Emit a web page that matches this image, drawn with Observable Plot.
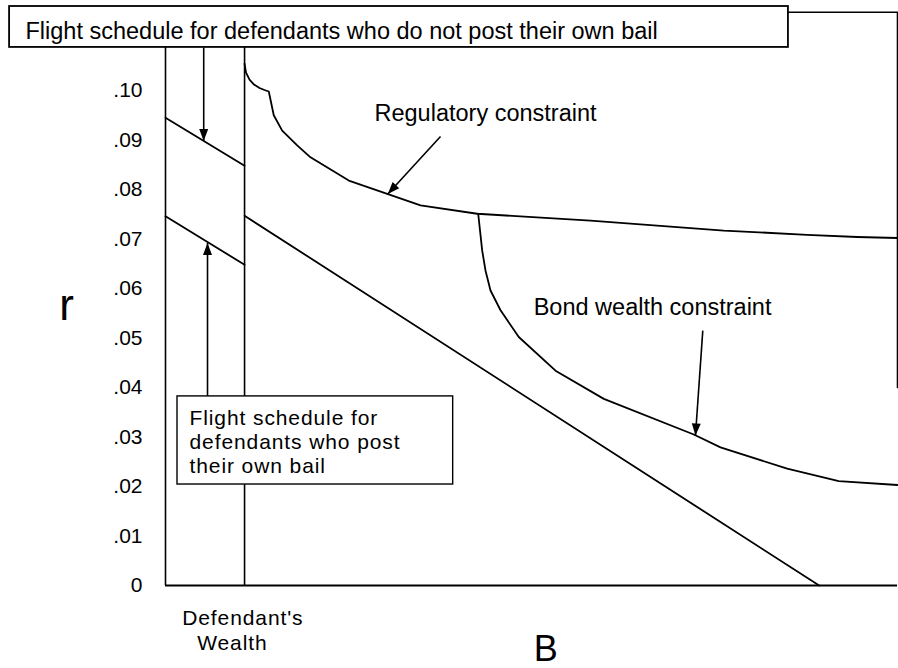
<!DOCTYPE html>
<html><head><meta charset="utf-8">
<script src="https://cdn.jsdelivr.net/npm/d3@7"></script>
<script src="https://cdn.jsdelivr.net/npm/@observablehq/plot@0.6"></script>
<style>
html,body{margin:0;padding:0;background:#fff;}
svg text{font-family:"Liberation Sans",Arial,Helvetica,sans-serif;}
</style></head><body><div id="chart"></div>
<script>
// ---- axis ticks ----
const rTicks = [0, 0.01, 0.02, 0.03, 0.04, 0.05, 0.06, 0.07, 0.08, 0.09, 0.10];
const rTickLabels = ["0", ".01", ".02", ".03", ".04", ".05", ".06", ".07", ".08", ".09", ".10"];

// ---- data (B on an arbitrary 0..100 scale, r as rate) ----
const wealthB = 10.8;                       // defendant's wealth
const flightNoPostB = [0, 10.8];            // flight schedule, do not post own bail
const flightNoPostR = [0.0945, 0.0848];
const flightPostB = [0, 10.8];              // flight schedule, post own bail
const flightPostR = [0.0746, 0.0648];
const flightBondB = [10.8, 89.3];           // schedule beyond defendant's wealth
const flightBondR = [0.0747, 0];
const regB = [10.8, 11.0, 11.48, 12.09, 12.84, 13.52, 14.11, 14.79, 15.94, 17.99, 19.81, 25.04, 30.29, 34.84, 42.58, 58.06, 76.27, 87.66, 94.49, 100];
const regR = [0.1054, 0.1036, 0.1022, 0.1012, 0.1005, 0.1001, 0.0998, 0.0950, 0.0919, 0.0889, 0.0865, 0.0818, 0.0791, 0.0768, 0.0751, 0.0737, 0.0717, 0.07085, 0.0704, 0.0702];
const bondB = [42.72, 43.26, 43.72, 44.4, 45.77, 48.26, 53.28, 59.88, 72.17, 75.82, 84.93, 91.98, 100];
const bondR = [0.0751, 0.0677, 0.0636, 0.0596, 0.0556, 0.0502, 0.0434, 0.0377, 0.0305, 0.0279, 0.0236, 0.0211, 0.0203];

// ---- text ----
const titleText = "Flight schedule for defendants who do not post their own bail";
const postText = "Flight schedule for\ndefendants who post\ntheir own bail";
const regText = "Regulatory constraint";
const bondText = "Bond wealth constraint";
const wealthText1 = "Defendant's";
const wealthText2 = "Wealth";
const xLabel = "B";
const yLabel = "r";

const zip = (xs, ys) => xs.map((x, i) => ({x, y: ys[i]}));

const xDomain = [0, 100], xRange = [165, 897];
const yDomain = [0, 0.10], yRange = [585, 90];
const xS = d3.scaleLinear(xDomain, xRange), yS = d3.scaleLinear(yDomain, yRange);

const topR = 0.1087;     // bottom edge of title box
const frameTopR = 0.1158;

const arrows = [
  {x1: 5.22, y1: topR, x2: 5.22, y2: 0.0898},
  {x1: 5.74, y1: 0.0382, x2: 5.74, y2: 0.0692},
  {x1: 37.57, y1: 0.0907, x2: 30.37, y2: 0.0791},
  {x1: 73.4, y1: 0.0515, x2: 72.4, y2: 0.0303}
];

function headSymbol(angle) {
  const L = 12, W = 4.5, c = Math.cos(angle), s = Math.sin(angle);
  return {draw(ctx) {
    const bx = -L * c, by = -L * s;
    ctx.moveTo(0, 0);
    ctx.lineTo(bx + W * s, by - W * c);
    ctx.lineTo(bx - W * s, by + W * c);
    ctx.closePath();
  }};
}

const headMarks = arrows.map(a => {
  const ang = Math.atan2(yS(a.y2) - yS(a.y1), xS(a.x2) - xS(a.x1));
  return Plot.dot([a], {x: "x2", y: "y2", r: 5, symbol: headSymbol(ang), fill: "black", stroke: "none"});
});

const lw = 1.8;
const plot = Plot.plot({
  width: 898, height: 668,
  marginLeft: 165, marginRight: 1, marginTop: 90, marginBottom: 83,
  style: {fontFamily: "Liberation Sans, Arial, sans-serif", fontSize: "21px", background: "white", color: "black", overflow: "visible"},
  x: {domain: xDomain, range: xRange, axis: null},
  y: {domain: yDomain, range: yRange, ticks: rTicks, tickFormat: d => rTickLabels[Math.round(d * 100)], tickSize: 0, tickPadding: 23, label: null},
  marks: [
    // frame
    Plot.ruleX([0, wealthB], {y1: 0, y2: topR, stroke: "black", strokeWidth: 1.6}),
    Plot.ruleY([0], {x1: 0, x2: 100, stroke: "black", strokeWidth: 1.8}),
    Plot.line([{x: 85.1, y: frameTopR}, {x: 100, y: frameTopR}, {x: 100, y: 0.04}], {x: "x", y: "y", stroke: "black", strokeWidth: 1.6}),
    // curves
    Plot.line(zip(flightNoPostB, flightNoPostR), {x: "x", y: "y", stroke: "black", strokeWidth: lw}),
    Plot.line(zip(flightPostB, flightPostR), {x: "x", y: "y", stroke: "black", strokeWidth: lw}),
    Plot.line(zip(flightBondB, flightBondR), {x: "x", y: "y", stroke: "black", strokeWidth: lw}),
    Plot.line(zip(regB, regR), {x: "x", y: "y", stroke: "black", strokeWidth: lw, strokeLinejoin: "round"}),
    Plot.line(zip(bondB, bondR), {x: "x", y: "y", stroke: "black", strokeWidth: lw, strokeLinejoin: "round"}),
    // arrows
    Plot.link(arrows, {x1: "x1", y1: "y1", x2: "x2", y2: "y2", stroke: "black", strokeWidth: 1.6}),
    ...headMarks,
    // boxes
    Plot.rect([{x1: -21.3, x2: 85.1, y1: 0.11697, y2: topR}], {x1: "x1", x2: "x2", y1: "y1", y2: "y2", fill: "white", stroke: "black", strokeWidth: 1.8}),
    Plot.rect([{x1: 1.64, x2: 39.3, y1: 0.0382, y2: 0.0204}], {x1: "x1", x2: "x2", y1: "y1", y2: "y2", fill: "white", stroke: "black", strokeWidth: 1.4}),
    // texts
    Plot.text([titleText], {x: -19.13, y: 0.1105, text: d => d, textAnchor: "start", lineAnchor: "bottom", fontSize: 23.5, fill: "black"}),
    Plot.text([postText], {x: 3.28, y: 0.02263, text: d => d, textAnchor: "start", lineAnchor: "bottom", lineHeight: 1.15, fontSize: 21, fill: "black"}),
    Plot.text([regText], {x: 28.55, y: 0.09374, text: d => d, textAnchor: "start", lineAnchor: "bottom", fontSize: 23.5, fill: "black"}),
    Plot.text([bondText], {x: 50.3, y: 0.05455, text: d => d, textAnchor: "start", lineAnchor: "bottom", fontSize: 23.5, fill: "black"}),
    Plot.text([wealthText1], {x: 2.28, y: -0.00802, text: d => d, textAnchor: "start", lineAnchor: "bottom", fontSize: 21, fill: "black"}),
    Plot.text([wealthText2], {x: 4.33, y: -0.01299, text: d => d, textAnchor: "start", lineAnchor: "bottom", fontSize: 21, fill: "black"}),
    Plot.text([xLabel], {x: 50.3, y: -0.0152, text: d => d, textAnchor: "start", lineAnchor: "bottom", fontSize: 36, fill: "black"}),
    Plot.text([yLabel], {x: -14.5, y: 0.05354, text: d => d, textAnchor: "start", lineAnchor: "bottom", fontSize: 44, fill: "black"})
  ]
});
// slightly wider tracking on the smaller annotation texts, as in the scan
d3.select(plot).selectAll("text").filter(function () {
  const t = this.textContent;
  return t === postText.replace(/\n/g, "") || t === wealthText1 || t === wealthText2;
}).style("letter-spacing", "0.9px");
document.getElementById("chart").appendChild(plot);
</script></body></html>
